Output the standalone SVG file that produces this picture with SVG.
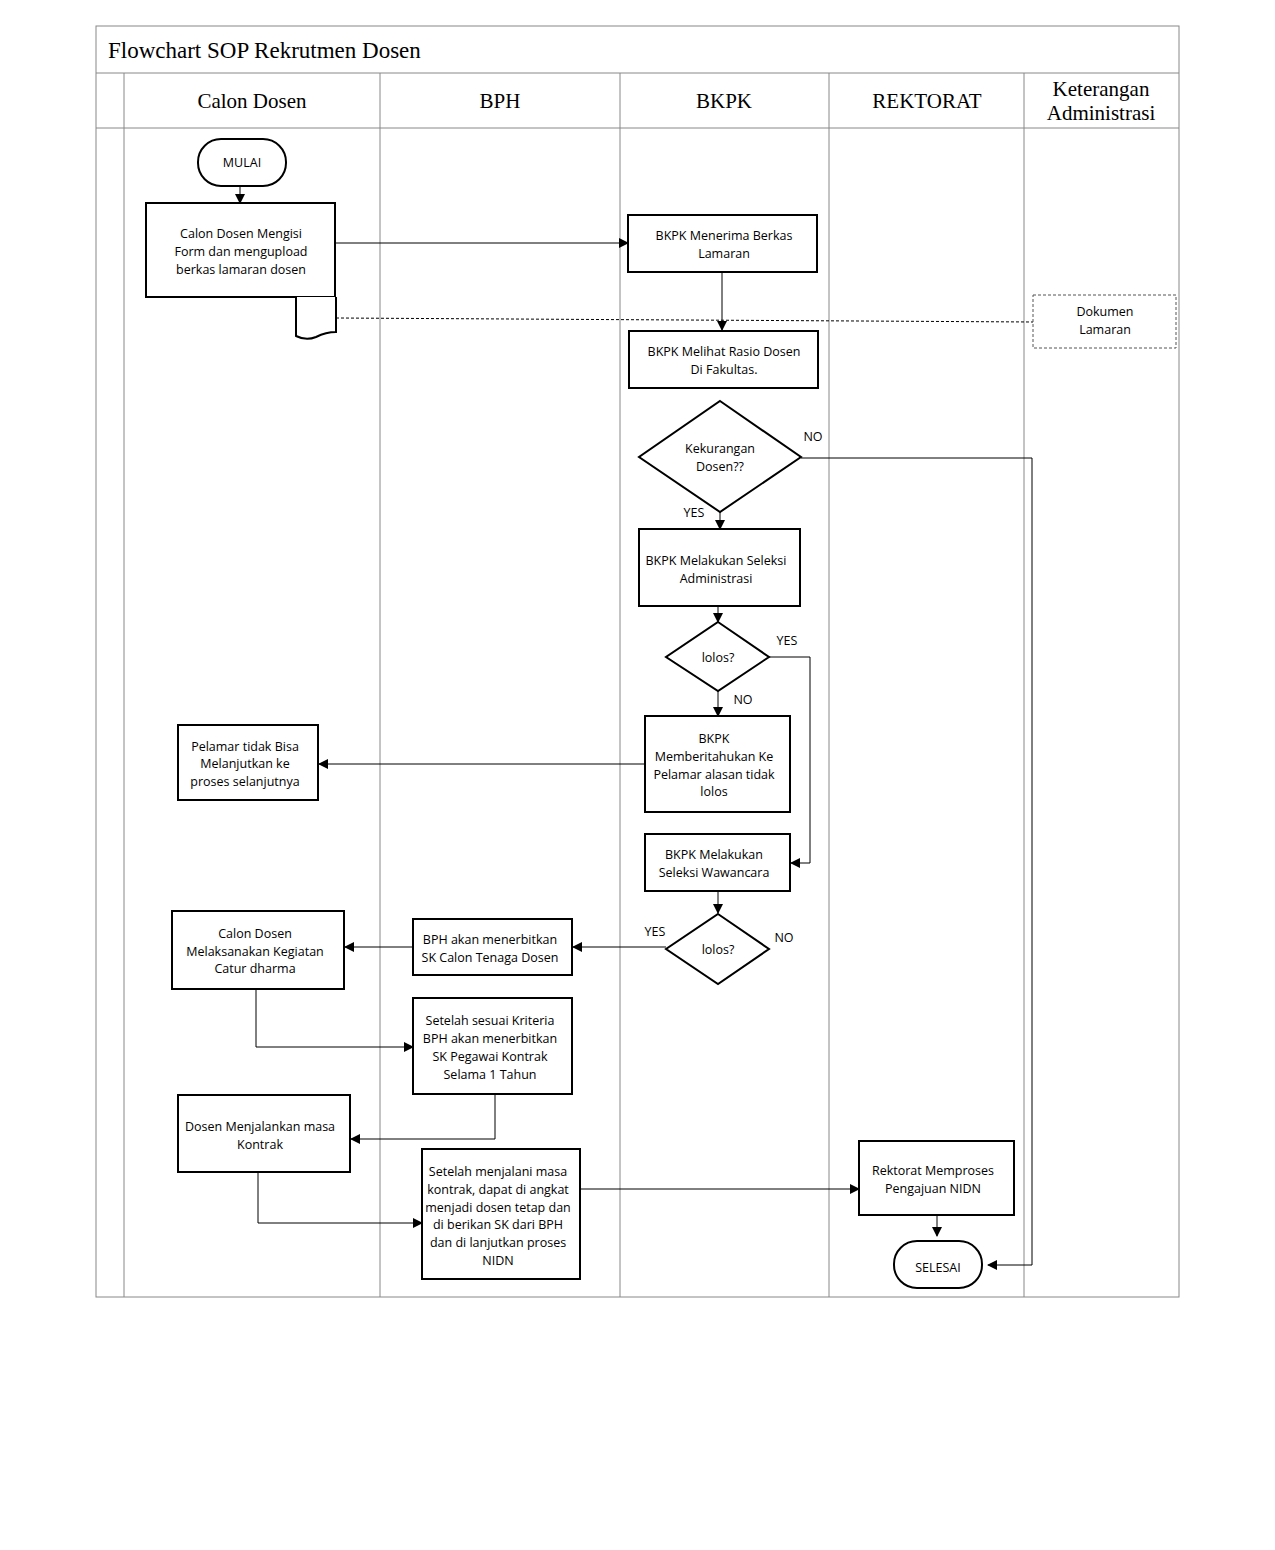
<svg xmlns="http://www.w3.org/2000/svg" width="1275" height="1550" viewBox="0 0 1275 1550">
<style>
.lane{stroke:#888;stroke-width:1;fill:none}
.box{fill:#fff;stroke:#000;stroke-width:2}
.t{font-family:"Open Sans","Noto Sans",sans-serif;font-size:12.5px;text-anchor:middle;fill:#000}
.h{font-family:"Liberation Serif",serif;font-size:21px;text-anchor:middle;fill:#000}
.c{stroke:#000;stroke-width:1;fill:none}
</style>
<defs><marker id="a" markerWidth="10" markerHeight="10" refX="9" refY="5" orient="auto" markerUnits="userSpaceOnUse"><path d="M0,0 L10,5 L0,10 z" fill="#000"/></marker></defs>
<rect width="1275" height="1550" fill="#fff"/>
<g id="lanes">
<rect x="96" y="26" width="1083" height="1271" class="lane"/>
<line x1="96" y1="73" x2="1179" y2="73" class="lane"/>
<line x1="96" y1="128" x2="1179" y2="128" class="lane"/>
<line x1="124" y1="73" x2="124" y2="1297" class="lane"/>
<line x1="380" y1="73" x2="380" y2="1297" class="lane"/>
<line x1="620" y1="73" x2="620" y2="1297" class="lane"/>
<line x1="829" y1="73" x2="829" y2="1297" class="lane"/>
<line x1="1024" y1="73" x2="1024" y2="1297" class="lane"/>
<text x="108" y="58" class="h" style="text-anchor:start;font-size:23px">Flowchart SOP Rekrutmen Dosen</text>
<text x="252" y="108" class="h">Calon Dosen</text>
<text x="500" y="108" class="h">BPH</text>
<text x="724" y="108" class="h">BKPK</text>
<text x="927" y="108" class="h">REKTORAT</text>
<text x="1101" y="96" class="h">Keterangan</text>
<text x="1101" y="120" class="h">Administrasi</text>
</g>
<g id="connectors">
<line x1="240" y1="186" x2="240" y2="203" class="c" marker-end="url(#a)"/>
<line x1="335" y1="243" x2="628" y2="243" class="c" marker-end="url(#a)"/>
<path d="M336,318 L1033,322" class="c" stroke-dasharray="3,2"/>
<line x1="722" y1="273" x2="722" y2="330" class="c" marker-end="url(#a)"/>
<line x1="720" y1="512" x2="720" y2="529" class="c" marker-end="url(#a)"/>
<path d="M801,458 H1032 V1265 H988" class="c" marker-end="url(#a)"/>
<line x1="718" y1="607" x2="718" y2="622" class="c" marker-end="url(#a)"/>
<path d="M769,657 H810 V863 H791" class="c" marker-end="url(#a)"/>
<line x1="718" y1="691" x2="718" y2="716" class="c" marker-end="url(#a)"/>
<line x1="645" y1="764" x2="319" y2="764" class="c" marker-end="url(#a)"/>
<line x1="718" y1="891" x2="718" y2="913" class="c" marker-end="url(#a)"/>
<line x1="666" y1="947" x2="573" y2="947" class="c" marker-end="url(#a)"/>
<line x1="413" y1="947" x2="345" y2="947" class="c" marker-end="url(#a)"/>
<path d="M256,989 V1047 H413" class="c" marker-end="url(#a)"/>
<path d="M495,1095 V1139 H351" class="c" marker-end="url(#a)"/>
<path d="M258,1173 V1223 H422" class="c" marker-end="url(#a)"/>
<line x1="581" y1="1189" x2="859" y2="1189" class="c" marker-end="url(#a)"/>
<line x1="937" y1="1216" x2="937" y2="1236" class="c" marker-end="url(#a)"/>
<text x="813" y="441" class="t">NO</text>
<text x="694" y="517" class="t">YES</text>
<text x="787" y="645" class="t">YES</text>
<text x="743" y="704" class="t">NO</text>
<text x="655" y="936" class="t">YES</text>
<text x="784" y="942" class="t">NO</text>
</g>
<g id="mulai"><rect x="198" y="139" width="88" height="47" rx="23" class="box"/><text x="242" y="167" class="t">MULAI</text></g>
<g id="isi"><rect x="146" y="203" width="189" height="94" class="box"/><text x="241" y="238" class="t">Calon Dosen Mengisi</text><text x="241" y="256" class="t">Form dan mengupload</text><text x="241" y="274" class="t">berkas lamaran dosen</text></g>
<g id="doc"><path d="M296,297 V336 Q306,341 316,337 Q326,332 336,332 V297" class="box"/></g>
<g id="dokumen"><rect x="1033" y="295" width="143" height="53" fill="#fff" stroke="#555" stroke-dasharray="3,2"/><text x="1105" y="316" class="t">Dokumen</text><text x="1105" y="334" class="t">Lamaran</text></g>
<g id="terima"><rect x="628" y="215" width="189" height="57" class="box"/><text x="724" y="240" class="t">BKPK Menerima Berkas</text><text x="724" y="258" class="t">Lamaran</text></g>
<g id="rasio"><rect x="629" y="331" width="189" height="57" class="box"/><text x="724" y="356" class="t">BKPK Melihat Rasio Dosen</text><text x="724" y="374" class="t">Di Fakultas.</text></g>
<g id="kurang"><path d="M720,401 L801,457 L720,512 L639,457 Z" class="box"/><text x="720" y="453" class="t">Kekurangan</text><text x="720" y="471" class="t">Dosen??</text></g>
<g id="admin"><rect x="639" y="529" width="161" height="77" class="box"/><text x="716" y="565" class="t">BKPK Melakukan Seleksi</text><text x="716" y="583" class="t">Administrasi</text></g>
<g id="lolos1"><path d="M718,622 L769,657 L718,691 L666,657 Z" class="box"/><text x="718" y="662" class="t">lolos?</text></g>
<g id="beri"><rect x="645" y="716" width="145" height="96" class="box"/><text x="714" y="743" class="t">BKPK</text><text x="714" y="761" class="t">Memberitahukan Ke</text><text x="714" y="779" class="t">Pelamar alasan tidak</text><text x="714" y="796" class="t">lolos</text></g>
<g id="tidak"><rect x="178" y="725" width="140" height="75" class="box"/><text x="245" y="751" class="t">Pelamar tidak Bisa</text><text x="245" y="768" class="t">Melanjutkan ke</text><text x="245" y="786" class="t">proses selanjutnya</text></g>
<g id="wawancara"><rect x="645" y="834" width="145" height="57" class="box"/><text x="714" y="859" class="t">BKPK Melakukan</text><text x="714" y="877" class="t">Seleksi Wawancara</text></g>
<g id="lolos2"><path d="M718,914 L769,949 L718,984 L666,949 Z" class="box"/><text x="718" y="954" class="t">lolos?</text></g>
<g id="sk"><rect x="413" y="919" width="159" height="56" class="box"/><text x="490" y="944" class="t">BPH akan menerbitkan</text><text x="490" y="962" class="t">SK Calon Tenaga Dosen</text></g>
<g id="catur"><rect x="172" y="911" width="172" height="78" class="box"/><text x="255" y="938" class="t">Calon Dosen</text><text x="255" y="956" class="t">Melaksanakan Kegiatan</text><text x="255" y="973" class="t">Catur dharma</text></g>
<g id="kontrak"><rect x="413" y="998" width="159" height="96" class="box"/><text x="490" y="1025" class="t">Setelah sesuai Kriteria</text><text x="490" y="1043" class="t">BPH akan menerbitkan</text><text x="490" y="1061" class="t">SK Pegawai Kontrak</text><text x="490" y="1079" class="t">Selama 1 Tahun</text></g>
<g id="masa"><rect x="178" y="1095" width="172" height="77" class="box"/><text x="260" y="1131" class="t">Dosen Menjalankan masa</text><text x="260" y="1149" class="t">Kontrak</text></g>
<g id="tetap"><rect x="422" y="1149" width="158" height="130" class="box"/><text x="498" y="1176" class="t">Setelah menjalani masa</text><text x="498" y="1194" class="t">kontrak, dapat di angkat</text><text x="498" y="1212" class="t">menjadi dosen tetap dan</text><text x="498" y="1229" class="t">di berikan SK dari BPH</text><text x="498" y="1247" class="t">dan di lanjutkan proses</text><text x="498" y="1265" class="t">NIDN</text></g>
<g id="nidn"><rect x="859" y="1141" width="155" height="74" class="box"/><text x="933" y="1175" class="t">Rektorat Memproses</text><text x="933" y="1193" class="t">Pengajuan NIDN</text></g>
<g id="selesai"><rect x="894" y="1241" width="88" height="47" rx="23" class="box"/><text x="938" y="1272" class="t">SELESAI</text></g>
</svg>
